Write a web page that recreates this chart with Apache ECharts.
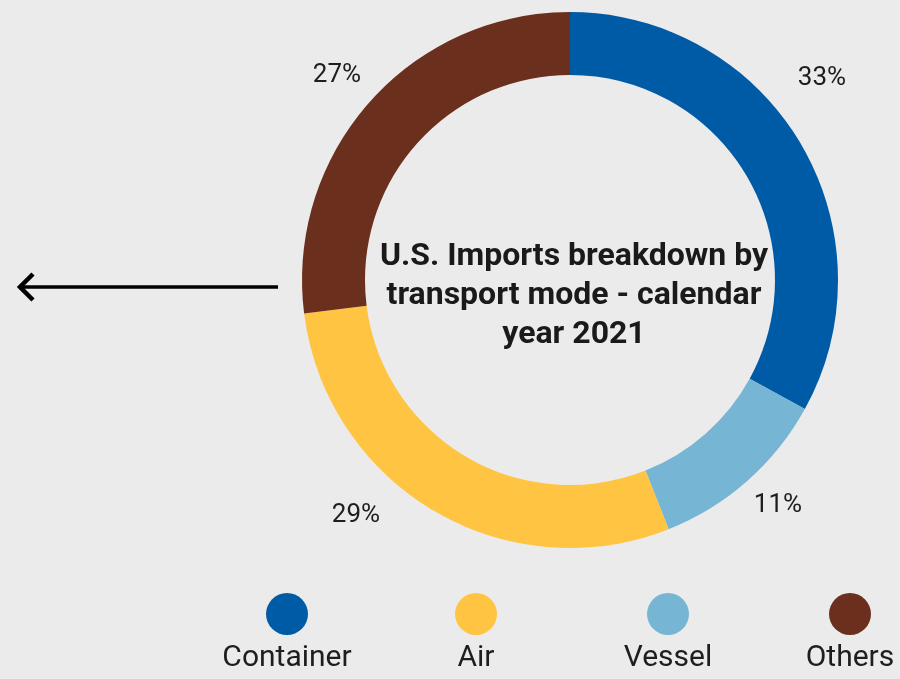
<!DOCTYPE html>
<html>
<head>
<meta charset="utf-8">
<script src="https://cdn.jsdelivr.net/npm/echarts@6/dist/echarts.min.js"></script>
<style>
  html, body { margin: 0; padding: 0; background: #ebebeb; }
  #chart { width: 900px; height: 679px; }
</style>
</head>
<body>
<div id="chart"></div>
<script>
// slice order is clockwise from 12 o'clock
var names = ['Container', 'Vessel', 'Air', 'Others'];
var values = [33, 11, 29, 27];
var colors = ['#005ba6', '#77b5d5', '#ffc542', '#6b2f1d'];
// legend order as printed under the chart
var legendOrder = ['Container', 'Air', 'Vessel', 'Others'];
var legendX = [287, 476, 668, 850];

// where the percentage labels sit
var labelPos = [
    [822, 78],
    [778, 505],
    [356, 515],
    [337, 75]
];

var pieData = names.map(function (n, i) {
    return { name: n, value: values[i], itemStyle: { color: colors[i] } };
});

var legends = legendOrder.map(function (n, i) {
    return {
        data: [{ name: n, icon: 'circle' }],
        left: legendX[i] - 21,
        top: 593,
        itemWidth: 42,
        itemHeight: 42,
        padding: 0,
        selectedMode: false,
        formatter: function () { return ''; }
    };
});

var graphics = legendOrder.map(function (n, i) {
    return {
        type: 'text',
        x: legendX[i],
        y: 658,
        style: {
            text: n,
            align: 'center',
            verticalAlign: 'middle',
            font: '30px Roboto',
            fill: '#1e1e1e'
        }
    };
});
// arrow to the left
graphics.push({
    type: 'polyline',
    shape: { points: [[278, 287], [20, 287]] },
    style: { stroke: '#000', lineWidth: 3.5 }
});
graphics.push({
    type: 'polyline',
    shape: { points: [[33, 274], [20, 287], [33, 300]] },
    style: { stroke: '#000', lineWidth: 4.5, fill: null }
});

var option = {
    backgroundColor: '#ebebeb',
    animation: false,
    title: {
        text: 'U.S. Imports breakdown by\ntransport mode - calendar\nyear 2021',
        left: 569,
        top: 232,
        textAlign: 'center',
        textStyle: {
            fontFamily: 'Roboto',
            fontSize: 32,
            fontWeight: 'bold',
            color: '#1a1a1a',
            lineHeight: 39
        }
    },
    legend: legends,
    graphic: graphics,
    series: [
        {
            type: 'pie',
            center: [570, 280],
            radius: [205, 268],
            startAngle: 90,
            clockwise: true,
            silent: true,
            data: pieData,
            label: {
                show: true,
                position: 'outside',
                formatter: '{c}%',
                fontFamily: 'Roboto',
                fontSize: 26,
                color: '#1e1e1e',
                overflow: 'none'
            },
            labelLine: { show: false },
            labelLayout: function (p) {
                var pos = labelPos[p.dataIndex];
                return { x: pos[0], y: pos[1], align: 'center', verticalAlign: 'middle' };
            }
        }
    ]
};

var myChart = echarts.init(document.getElementById('chart'));
myChart.setOption(option);
</script>
</body>
</html>
